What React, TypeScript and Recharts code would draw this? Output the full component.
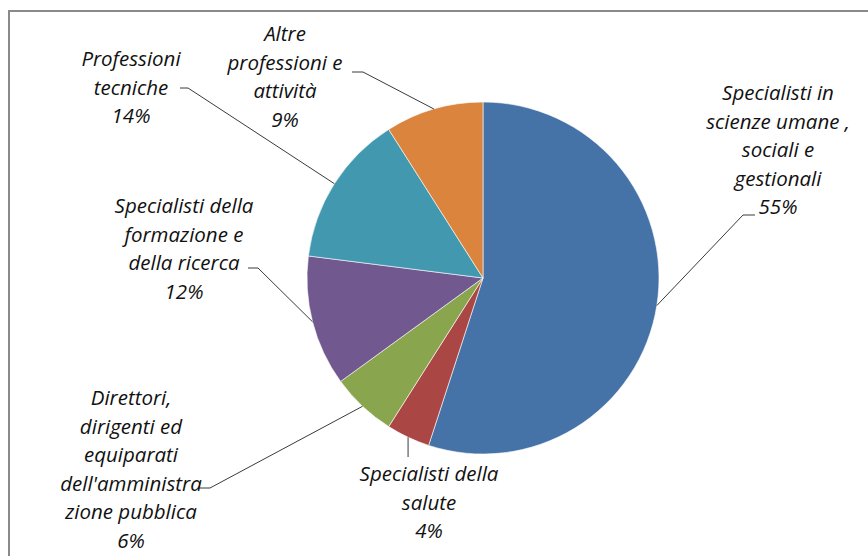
import React from "react";
import { PieChart, Pie, Cell } from "recharts";

const categories = [
  "Specialisti in\nscienze umane ,\nsociali e\ngestionali",
  "Specialisti della\nsalute",
  "Direttori,\ndirigenti ed\nequiparati\ndell'amministra\nzione pubblica",
  "Specialisti della\nformazione e\ndella ricerca",
  "Professioni\ntecniche",
  "Altre\nprofessioni e\nattività",
];
const values = [55, 4, 6, 12, 14, 9];
const colors = ["#4572A7", "#AA4643", "#89A54E", "#71588F", "#4198AF", "#DB843D"];

// label placement relative to pie centre: text centre, elbow and end of leader line
const labelLayout = [
  { tx: 295, ty: -186, ex: 260, ey: -63, lx: 272, ly: -63 },
  { tx: -54, ty: 195, ex: null, ey: 179, lx: null, ly: 179 },
  { tx: -352, ty: 119, ex: -273, ey: 210, lx: -285, ly: 210 },
  { tx: -299, ty: -73, ex: -225, ey: -10, lx: -235, ly: -10 },
  { tx: -352, ty: -220, ex: -295, ey: -190, lx: -303, ly: -190 },
  { tx: -198, ty: -245, ex: -120, ey: -206, lx: -131, ly: -206 },
];

const data = categories.map((name, i) => ({ name, value: values[i] }));
const total = values.reduce((a, b) => a + b, 0);
const RAD = Math.PI / 180;
const LINE_H = 28.6;

const renderLabel = (props) => {
  const { cx, cy, midAngle, outerRadius, index } = props;
  const lay = labelLayout[index];
  const sx = cx + outerRadius * Math.cos(-midAngle * RAD);
  const sy = cy + outerRadius * Math.sin(-midAngle * RAD);
  const ex = lay.ex === null ? sx : cx + lay.ex;
  const lx = lay.lx === null ? sx : cx + lay.lx;
  const ey = cy + lay.ey;
  const ly = cy + lay.ly;
  const lines = categories[index].split("\n");
  lines.push(Math.round((values[index] / total) * 100) + "%");
  return (
    <g key={"lbl" + index}>
      <polyline
        points={`${sx},${sy} ${ex},${ey} ${lx},${ly}`}
        fill="none"
        stroke="#3a3a3a"
        strokeWidth={1}
      />
      <text
        x={cx + lay.tx}
        y={cy + lay.ty}
        textAnchor="middle"
        fill="#111"
        fontFamily="'Open Sans', 'Noto Sans', sans-serif"
        fontStyle="italic"
        fontSize={20.5}
      >
        {lines.map((ln, j) => (
          <tspan key={j} x={cx + lay.tx} y={cy + lay.ty + j * LINE_H} dominantBaseline="central">
            {ln}
          </tspan>
        ))}
      </text>
    </g>
  );
};

const App = () => {
  return (
    <div style={{ position: "fixed", left: 0, top: 0, width: 868, height: 556, background: "#fff" }}>
      <div
        style={{
          position: "absolute",
          left: 8,
          top: 10,
          width: 858,
          height: 546,
          borderLeft: "2px solid #8a8a8a",
          borderTop: "2px solid #8a8a8a",
        }}
      />
      <div style={{ position: "absolute", left: 0, top: 0 }}>
        <PieChart width={868} height={556} margin={{ top: 0, right: 0, bottom: 0, left: 0 }}>
          <Pie
            data={data}
            dataKey="value"
            nameKey="name"
            cx={483}
            cy={278}
            outerRadius={176}
            startAngle={90}
            endAngle={-270}
            stroke="#ffffff"
            strokeWidth={0.6}
            label={renderLabel}
            labelLine={false}
            isAnimationActive={false}
          >
            {data.map((d, i) => (
              <Cell key={d.name} fill={colors[i]} />
            ))}
          </Pie>
        </PieChart>
      </div>
    </div>
  );
};

export default App;
